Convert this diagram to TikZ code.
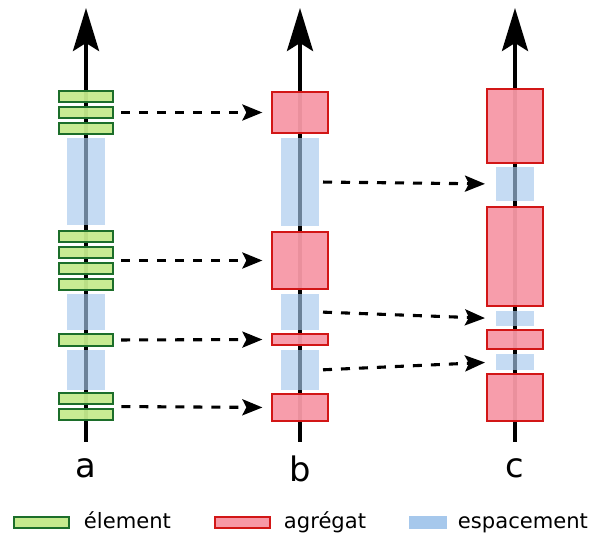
\documentclass[tikz,border=0pt]{standalone}
\usepackage{fontspec}
\setmainfont{DejaVu Sans}
\usepackage{tikz}
\usetikzlibrary{arrows.meta, fit, positioning}
\definecolor{ElemFill}{RGB}{197,234,141}
\definecolor{ElemLine}{RGB}{28,110,42}
\definecolor{AggFill}{RGB}{247,152,166}
\definecolor{AggLine}{RGB}{210,22,22}
\definecolor{GapFill}{RGB}{166,200,236}

\begin{document}
\begin{tikzpicture}[x=0.025cm, y=-0.025cm,
    elem/.style={rectangle, draw=ElemLine, fill=ElemFill, fill opacity=0.95,
                 line width=1.5pt, minimum width=1.36cm, minimum height=0.26cm,
                 inner sep=0pt, outer sep=0pt},
    agg/.style={rectangle, draw=AggLine, fill=AggFill, fill opacity=0.95,
                line width=1.5pt, minimum width=1.38cm,
                inner sep=0pt, outer sep=0pt},
    gap/.style={rectangle, fill=GapFill, fill opacity=0.65,
                minimum width=0.95cm, inner sep=0pt, outer sep=0pt},
    axis/.style={line width=2.8pt,
                 -{Stealth[length=1.075cm, width=0.65cm, inset=0.2cm]}},
    link/.style={line width=2.2pt, dash pattern=on 6.4pt off 6.4pt,
                 -{Stealth[length=0.5cm, width=0.4cm, inset=0.1cm]}},
    lbl/.style={font=\fontsize{24}{28}\selectfont},
    leg/.style={font=\fontsize{15}{18}\selectfont, anchor=base west}
  ]
  \useasboundingbox (0,0) rectangle (592,536);

  % Axes
  \coordinate (abot) at (86,442);  \coordinate (atop) at (86,8);
  \coordinate (bbot) at (300,442); \coordinate (btop) at (300,8);
  \coordinate (cbot) at (515,442); \coordinate (ctop) at (515,8);
  \draw[axis] (abot)--(atop);
  \draw[axis] (bbot)--(btop);
  \draw[axis] (cbot)--(ctop);

  % Column a: elements and gaps
  \node[gap, minimum height=2.175cm] (as1) at (86,181.5) {};
  \node[gap, minimum height=0.9cm]   (as2) at (86,312) {};
  \node[gap, minimum height=1.0cm]   (as3) at (86,370) {};
  \node[elem] (a1) at (86,96.5) {};
  \node[elem] (a2) at (86,112.5) {};
  \node[elem] (a3) at (86,128.5) {};
  \node[elem] (a4) at (86,236.5) {};
  \node[elem] (a5) at (86,252.5) {};
  \node[elem] (a6) at (86,268.5) {};
  \node[elem] (a7) at (86,284.5) {};
  \node[elem, minimum height=0.28cm] (a8) at (86,340) {};
  \node[elem] (a9) at (86,398.5) {};
  \node[elem] (a10) at (86,414.5) {};
  \node[fit=(a1)(a3), inner sep=0pt] (ga1) {};
  \node[fit=(a4)(a7), inner sep=0pt] (ga2) {};
  \node[fit=(a9)(a10), inner sep=0pt] (ga4) {};

  % Column b: aggregates and gaps
  \node[gap, minimum height=2.2cm] (bs1) at (300,182) {};
  \node[gap, minimum height=0.9cm] (bs2) at (300,312) {};
  \node[gap, minimum height=1.0cm] (bs3) at (300,370) {};
  \node[agg, minimum height=1.04cm] (b1) at (300,112.5) {};
  \node[agg, minimum height=1.44cm] (b2) at (300,260.5) {};
  \node[agg, minimum height=0.27cm] (b3) at (300,339.5) {};
  \node[agg, minimum height=0.67cm] (b4) at (300,407.5) {};

  % Column c: aggregates and gaps
  \node[gap, minimum height=0.85cm]  (cs1) at (515,184) {};
  \node[gap, minimum height=0.375cm] (cs2) at (515,318.5) {};
  \node[gap, minimum height=0.4cm]   (cs3) at (515,362) {};
  \node[agg, minimum height=1.84cm] (c1) at (515,126) {};
  \node[agg, minimum height=2.49cm] (c2) at (515,256.5) {};
  \node[agg, minimum height=0.47cm] (c3) at (515,339.5) {};
  \node[agg, minimum height=1.18cm] (c4) at (515,397.5) {};

  % a -> b
  \draw[link, shorten <=0.2cm, shorten >=0.25cm] (ga1.east)--(b1.west);
  \draw[link, shorten <=0.2cm, shorten >=0.25cm] (ga2.east)--(b2.west);
  \draw[link, shorten <=0.2cm, shorten >=0.25cm] (a8.east)--(b3.west);
  \draw[link, shorten <=0.2cm, shorten >=0.25cm] (ga4.east)--(b4.west);
  % b -> c
  \draw[link, shorten <=0.1cm, shorten >=0.275cm] (bs1.east)--(cs1.west);
  \draw[link, shorten <=0.1cm, shorten >=0.275cm] (bs2.east)--(cs2.west);
  \draw[link, shorten <=0.1cm, shorten >=0.275cm] (bs3.east)--(cs3.west);

  % Labels
  \node[lbl] (la) at (86,468.5) {a};
  \node[lbl] (lb) at (300,468.5) {b};
  \node[lbl] (lc) at (515,468.5) {c};

  % Legend
  \node[elem, fill opacity=1, minimum width=1.38cm, minimum height=0.28cm]
        (legE) at (41.5,522.5) {};
  \node[leg] (legEtxt) at (79,529) {élement};
  \node[agg, fill opacity=1, minimum height=0.28cm]
        (legA) at (242.5,522.5) {};
  \node[leg] (legAtxt) at (279,529) {agrégat};
  \node[gap, fill opacity=1, minimum height=0.33cm]
        (legG) at (428,522.5) {};
  \node[leg] (legGtxt) at (453,529) {espacement};
\end{tikzpicture}
\end{document}
